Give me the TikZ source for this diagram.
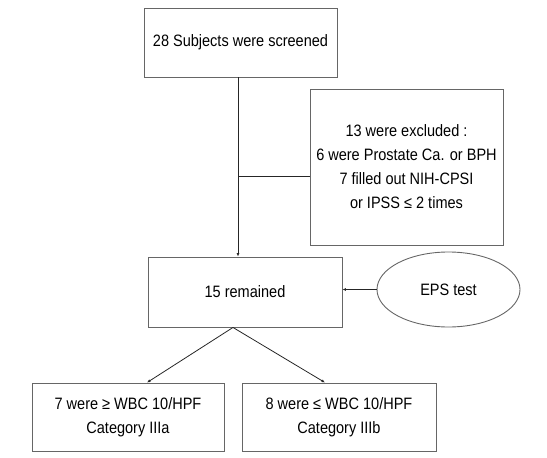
\documentclass[tikz,border=0pt]{standalone}
\usepackage{fontspec}
\setmainfont{Liberation Sans}[FakeStretch=0.88]
\usetikzlibrary{arrows.meta, positioning, shapes.geometric}

\begin{document}
\begin{tikzpicture}[x=1pt,y=-1pt,
    font=\fontsize{16.5}{24}\selectfont,
    box/.style={draw=black!60, line width=0.9pt, fill=white, inner sep=0pt, align=center},
    link/.style={draw=black!85, line width=0.8pt},
    arr/.style={link, -{Latex[length=3.5pt,width=3pt]}}]
  \useasboundingbox (0,0) rectangle (547,458);

  % main stream
  \node[box, minimum width=193pt, minimum height=69pt] (screened) at (240.5,42.5) {28 Subjects were screened};
  \node[box, minimum width=193pt, minimum height=156pt] (excluded) at (406.5,167) {13 were excluded :\\6 were Prostate Ca. or BPH\\7 filled out NIH-CPSI\\or IPSS ≤ 2 times};
  \node[draw=black!60, line width=0.9pt, ellipse, minimum width=143pt, minimum height=75pt] (eps) at (448.5,289.5) {EPS test};
  \node[box, minimum width=194pt, minimum height=70pt] (remained) at (245,292) {15 remained};

  % categories
  \node[box, minimum width=192pt, minimum height=68pt] (cata) at (128,417) {7 were ≥ WBC 10/HPF\\Category IIIa};
  \node[box, minimum width=194pt, minimum height=68pt] (catb) at (339,417) {8 were ≤ WBC 10/HPF\\Category IIIb};

  \coordinate (split) at (238,176);
  \draw[arr] (screened.south -| split) -- (remained.north -| split);
  \draw[link] (split) -- (split -| excluded.west);
  \draw[arr] (eps.west) -- (remained.east |- eps.west);
  \draw[arr] ([xshift=-12pt]remained.south) -- ([xshift=19pt]cata.north);
  \draw[arr] ([xshift=-12pt]remained.south) -- ([xshift=-14pt]catb.north);
\end{tikzpicture}
\end{document}
